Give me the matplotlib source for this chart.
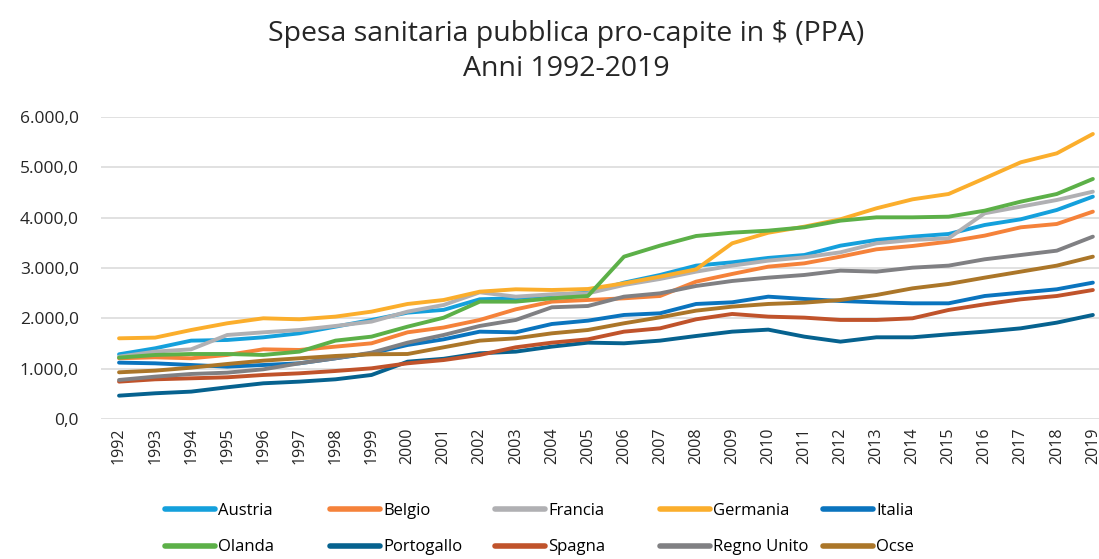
import numpy as np
import matplotlib
matplotlib.use("Agg")
from matplotlib import pyplot as plt
from matplotlib.ticker import FuncFormatter

plt.rcParams["font.family"] = ["Open Sans", "DejaVu Sans"]

years = list(range(1992, 2020))

austria = [1289, 1408, 1560, 1573, 1626, 1705, 1837, 1970, 2115, 2170,
           2380, 2400, 2465, 2511, 2710, 2862, 3047, 3113, 3200, 3258,
           3443, 3556, 3622, 3675, 3853, 3966, 4151, 4415]
belgio = [1210, 1229, 1210, 1276, 1388, 1375, 1441, 1507, 1725, 1820,
          1970, 2181, 2333, 2366, 2399, 2445, 2730, 2882, 3027, 3093,
          3225, 3371, 3437, 3523, 3642, 3807, 3873, 4118]
francia = [1243, 1342, 1388, 1672, 1725, 1771, 1851, 1937, 2135, 2267,
           2518, 2432, 2478, 2498, 2664, 2783, 2928, 3047, 3146, 3212,
           3311, 3490, 3556, 3589, 4085, 4217, 4349, 4514]
germania = [1606, 1620, 1771, 1904, 2003, 1983, 2036, 2135, 2287, 2366,
            2531, 2578, 2564, 2584, 2697, 2829, 2974, 3490, 3700, 3820,
            3966, 4184, 4362, 4468, 4779, 5096, 5274, 5658]
italia = [1124, 1110, 1077, 1044, 1077, 1110, 1210, 1309, 1474, 1586,
          1738, 1725, 1890, 1956, 2069, 2102, 2287, 2320, 2432, 2386,
          2346, 2320, 2300, 2300, 2445, 2512, 2578, 2710]
olanda = [1223, 1276, 1295, 1295, 1276, 1342, 1560, 1639, 1837, 2015,
          2333, 2333, 2399, 2445, 3225, 3444, 3635, 3701, 3741, 3807,
          3939, 4005, 4005, 4018, 4137, 4316, 4468, 4766]
portogallo = [469, 516, 549, 635, 714, 747, 793, 879, 1143, 1200,
              1309, 1342, 1441, 1520, 1507, 1560, 1652, 1738, 1778, 1639,
              1540, 1626, 1626, 1685, 1738, 1804, 1917, 2069]
spagna = [747, 793, 813, 833, 879, 912, 958, 1011, 1110, 1175,
          1276, 1428, 1520, 1586, 1738, 1804, 1983, 2089, 2036, 2016,
          1970, 1970, 2003, 2168, 2280, 2379, 2445, 2564]
regno_unito = [780, 846, 899, 925, 991, 1110, 1210, 1322, 1520, 1672,
               1851, 1970, 2221, 2247, 2432, 2498, 2644, 2743, 2809, 2862,
               2948, 2928, 3007, 3047, 3173, 3258, 3344, 3622]
ocse = [932, 965, 1024, 1097, 1163, 1210, 1256, 1289, 1295, 1428,
        1560, 1606, 1705, 1771, 1904, 2022, 2155, 2234, 2287, 2313,
        2366, 2465, 2597, 2684, 2809, 2928, 3047, 3225]

series = [
    ("Austria", austria, "#14A0DC"),
    ("Belgio", belgio, "#F5823A"),
    ("Francia", francia, "#B0B0B3"),
    ("Germania", germania, "#FBAE2C"),
    ("Italia", italia, "#0A74BE"),
    ("Olanda", olanda, "#5CB048"),
    ("Portogallo", portogallo, "#06628F"),
    ("Spagna", spagna, "#C0532B"),
    ("Regno Unito", regno_unito, "#808083"),
    ("Ocse", ocse, "#AB7629"),
]

fig = plt.figure(figsize=(10.99, 5.59), dpi=100)
ax = fig.add_axes([0.0919, 0.2499, 0.9081, 0.5413])

handles = []
for name, values, color in series:
    (line,) = ax.plot(years, values, color=color, linewidth=2.8, label=name,
                      solid_capstyle="round", solid_joinstyle="round")
    handles.append(line)

ax.set_ylim(0, 6000)
ax.set_xlim(1991.5, 2019.17)
ax.set_yticks(np.arange(0, 6001, 1000))
ax.yaxis.set_major_formatter(
    FuncFormatter(lambda v, _: f"{v:,.1f}".replace(",", "X").replace(".", ",").replace("X", "."))
)
ax.set_xticks(years)
ax.set_xticklabels([str(y) for y in years], rotation=90, fontsize=11.5, color="#262626")
ax.tick_params(axis="y", labelsize=12.5, colors="#262626", length=0, pad=16)
ax.tick_params(axis="x", length=0, pad=6)
ax.grid(axis="y", color="#D9D9D9", linewidth=1.1)
ax.set_axisbelow(True)
for spine in ax.spines.values():
    spine.set_visible(False)

fig.text(0.515, 0.908, "Spesa sanitaria pubblica pro-capite in $ (PPA)\nAnni 1992-2019",
         ha="center", va="center", fontsize=20.5, color="#262626", linespacing=1.3)

# one small legend per column, so the columns keep the same width as in Excel
col_x = [165, 330, 495, 660, 823]
for i, x in enumerate(col_x):
    pair = [handles[i], handles[i + 5]]
    leg = fig.legend(handles=pair, labels=[h.get_label() for h in pair],
                     loc="center left", bbox_to_anchor=(x / 1099, 0.0537),
                     frameon=False, fontsize=12, handlelength=3.0,
                     handletextpad=0.2, labelspacing=1.25, borderpad=0,
                     borderaxespad=0)
    for line in leg.get_lines():
        line.set_linewidth(4)

fig.savefig("out.png", dpi=100)
